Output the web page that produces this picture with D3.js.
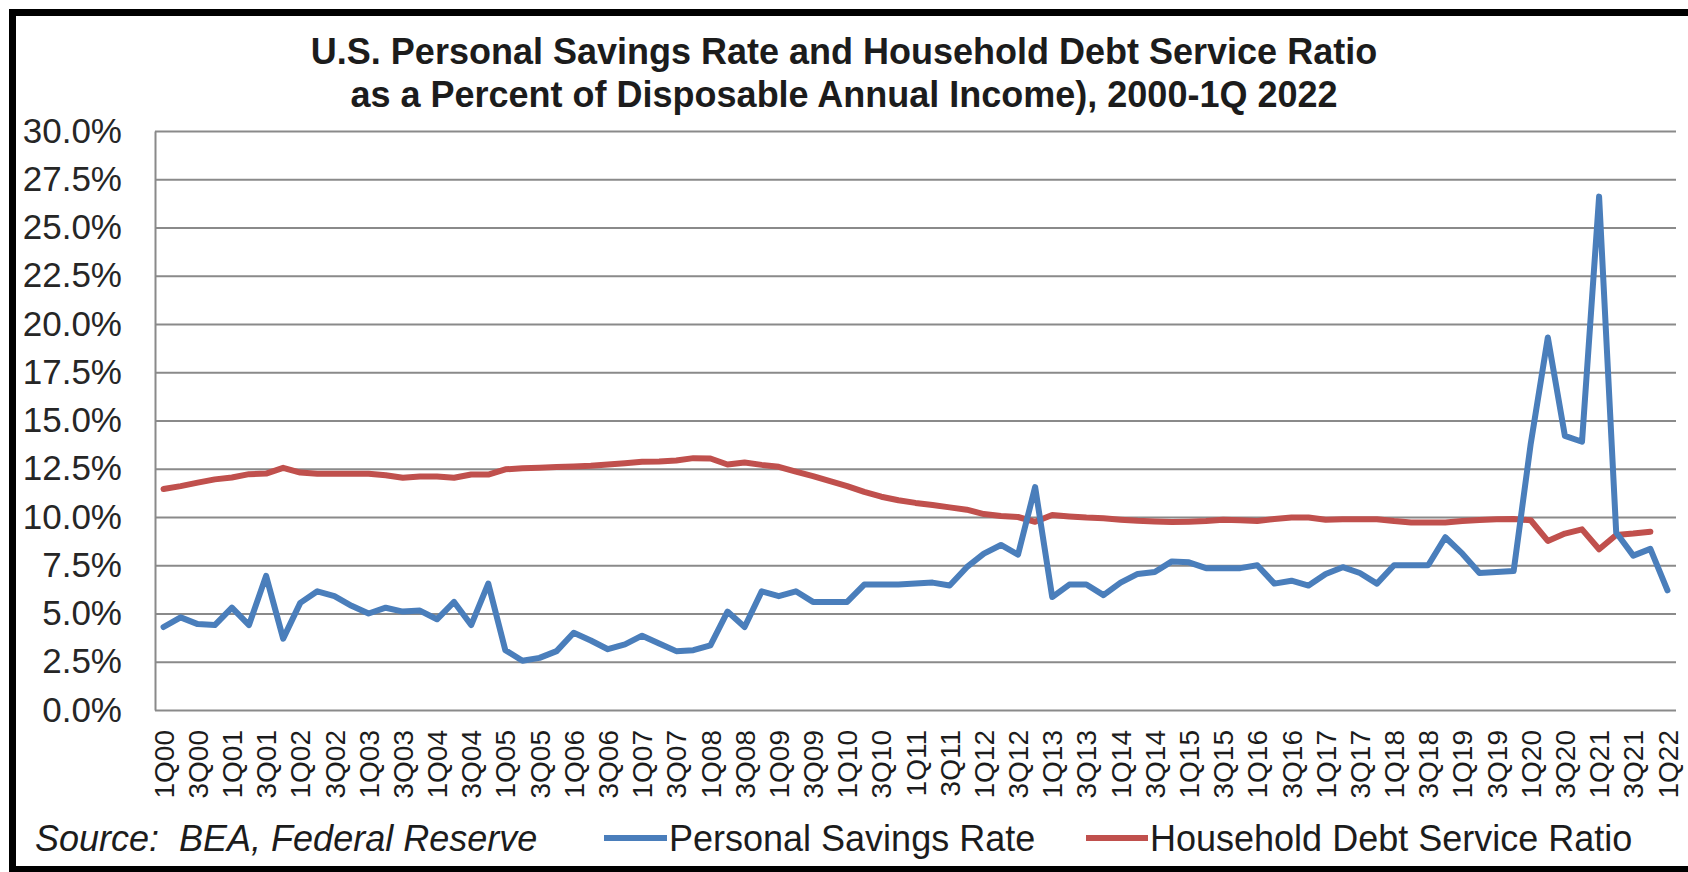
<!DOCTYPE html>
<html>
<head>
<meta charset="utf-8">
<script src="https://cdn.jsdelivr.net/npm/d3@7"></script>
<style>
  body { margin: 0; background: #fff; }
  svg { display: block; font-family: "Liberation Sans", Arial, sans-serif; }
</style>
</head>
<body>
<div id="chart"></div>
<script>
// Kvartaler 1Q00 - 1Q22
const quarters = [
  "1Q00", "2Q00", "3Q00", "4Q00", "1Q01", "2Q01", "3Q01", "4Q01",
  "1Q02", "2Q02", "3Q02", "4Q02", "1Q03", "2Q03", "3Q03", "4Q03",
  "1Q04", "2Q04", "3Q04", "4Q04", "1Q05", "2Q05", "3Q05", "4Q05",
  "1Q06", "2Q06", "3Q06", "4Q06", "1Q07", "2Q07", "3Q07", "4Q07",
  "1Q08", "2Q08", "3Q08", "4Q08", "1Q09", "2Q09", "3Q09", "4Q09",
  "1Q10", "2Q10", "3Q10", "4Q10", "1Q11", "2Q11", "3Q11", "4Q11",
  "1Q12", "2Q12", "3Q12", "4Q12", "1Q13", "2Q13", "3Q13", "4Q13",
  "1Q14", "2Q14", "3Q14", "4Q14", "1Q15", "2Q15", "3Q15", "4Q15",
  "1Q16", "2Q16", "3Q16", "4Q16", "1Q17", "2Q17", "3Q17", "4Q17",
  "1Q18", "2Q18", "3Q18", "4Q18", "1Q19", "2Q19", "3Q19", "4Q19",
  "1Q20", "2Q20", "3Q20", "4Q20", "1Q21", "2Q21", "3Q21", "4Q21",
  "1Q22"
];

// Kun hver anden kvartal bliver vist på x-aksen
const tickLabels = quarters.filter((q) => q.startsWith("1Q") || q.startsWith("3Q"));

// Personal Savings Rate (%)
const savingsRate = [
  4.3, 4.8, 4.45, 4.4, 5.3, 4.4, 6.95, 3.7,
  5.55, 6.15, 5.9, 5.4, 5.0, 5.3, 5.1, 5.15,
  4.7, 5.6, 4.4, 6.55, 3.1, 2.55, 2.7, 3.05,
  4.0, 3.6, 3.15, 3.4, 3.85, 3.45, 3.05, 3.1,
  3.35, 5.1, 4.3, 6.15, 5.9, 6.15, 5.6, 5.6,
  5.6, 6.5, 6.5, 6.5, 6.55, 6.6, 6.45, 7.4,
  8.1, 8.55, 8.05, 11.55, 5.85, 6.5, 6.5, 5.95,
  6.6, 7.05, 7.15, 7.7, 7.65, 7.35, 7.35, 7.35,
  7.5, 6.55, 6.7, 6.45, 7.05, 7.4, 7.1, 6.55,
  7.5, 7.5, 7.5, 8.95, 8.1, 7.1, 7.15, 7.2,
  13.8, 19.3, 14.2, 13.9, 26.6, 9.2, 8.0, 8.35,
  6.2
];

// Household Debt Service Ratio (%) - slutter 4Q21
const debtServiceRatio = [
  11.45, 11.6, 11.78, 11.95, 12.05, 12.22, 12.25, 12.55,
  12.3, 12.24, 12.24, 12.24, 12.24, 12.16, 12.03, 12.1,
  12.1, 12.03, 12.2, 12.2, 12.47, 12.52, 12.55, 12.59,
  12.62, 12.66, 12.72, 12.79, 12.86, 12.88, 12.93, 13.05,
  13.03, 12.72, 12.82, 12.7, 12.6, 12.35, 12.12, 11.86,
  11.6, 11.3, 11.05, 10.87, 10.73, 10.62, 10.5, 10.38,
  10.15, 10.05, 10.0, 9.75, 10.1, 10.03, 9.97, 9.93,
  9.86, 9.8, 9.77, 9.74, 9.76, 9.79, 9.86, 9.83,
  9.79, 9.9, 9.97, 9.97, 9.86, 9.88, 9.88, 9.88,
  9.79, 9.72, 9.71, 9.72, 9.79, 9.84, 9.88, 9.9,
  9.83, 8.76, 9.14, 9.36, 8.33, 9.07, 9.14, 9.24
];

const yTicks = [0, 2.5, 5, 7.5, 10, 12.5, 15, 17.5, 20, 22.5, 25, 27.5, 30];

const titleLines = [
  "U.S. Personal Savings Rate and Household Debt Service Ratio",
  "as a Percent of Disposable Annual Income), 2000-1Q 2022"
];
const seriesNames = ["Personal Savings Rate", "Household Debt Service Ratio"];
const sourceText = "Source:  BEA, Federal Reserve";

const width = 1688;
const height = 872;
const plot = { left: 155, right: 1676, top: 131, bottom: 710 };
const blue = "#4a7ebb";
const red = "#c0504d";
const gridColor = "#8a8a8a";
const textColor = "#1c1c1c";

const svg = d3
  .select("#chart")
  .append("svg")
  .attr("width", width)
  .attr("height", height);

svg.append("rect").attr("width", width).attr("height", height).attr("fill", "#fff");

const x = d3.scaleBand().domain(quarters).range([plot.left, plot.right]);
const y = d3.scaleLinear().domain([0, 30]).range([plot.bottom, plot.top]);
const cx = (q) => x(q) + x.bandwidth() / 2;

// Titel - to linjer centreret
svg
  .selectAll(".title")
  .data(titleLines)
  .enter()
  .append("text")
  .attr("class", "title")
  .attr("x", 844)
  .attr("y", (d, i) => 64 + i * 43)
  .attr("text-anchor", "middle")
  .attr("font-size", "36px")
  .attr("font-weight", "bold")
  .attr("fill", textColor)
  .text((d) => d);

// Y-akse med gitterlinjer
const yAxis = svg
  .append("g")
  .attr("transform", "translate(" + plot.left + ",0)")
  .call(
    d3
      .axisLeft(y)
      .tickValues(yTicks)
      .tickSizeInner(-(plot.right - plot.left))
      .tickSizeOuter(0)
      .tickPadding(33)
      .tickFormat((d) => d.toFixed(1) + "%")
  );

yAxis.select(".domain").attr("stroke", gridColor).attr("stroke-width", 2);
yAxis.selectAll(".tick line").attr("stroke", gridColor).attr("stroke-width", 2);
yAxis
  .selectAll(".tick text")
  .attr("font-size", "35px")
  .attr("font-family", "'Liberation Sans', Arial, sans-serif")
  .attr("fill", "#262626");

// X-akse - roterede kvartalsetiketter
const xAxis = svg
  .append("g")
  .attr("transform", "translate(0," + plot.bottom + ")")
  .call(d3.axisBottom(x).tickValues(tickLabels).tickSize(0));

xAxis.select(".domain").remove();
xAxis
  .selectAll(".tick text")
  .attr("transform", "rotate(-90)")
  .attr("text-anchor", "end")
  .attr("x", -20)
  .attr("y", 0)
  .attr("dy", "0.36em")
  .attr("font-size", "28px")
  .attr("font-family", "'Liberation Sans', Arial, sans-serif")
  .attr("fill", textColor);

// Linjerne
const line = d3
  .line()
  .x((d, i) => cx(quarters[i]))
  .y((d) => y(d));

svg
  .append("path")
  .datum(debtServiceRatio)
  .attr("fill", "none")
  .attr("stroke", red)
  .attr("stroke-width", 6)
  .attr("stroke-linejoin", "round")
  .attr("stroke-linecap", "round")
  .attr("d", line);

svg
  .append("path")
  .datum(savingsRate)
  .attr("fill", "none")
  .attr("stroke", blue)
  .attr("stroke-width", 6)
  .attr("stroke-linejoin", "round")
  .attr("stroke-linecap", "round")
  .attr("d", line);

// Kilde og legend i bunden
svg
  .append("text")
  .attr("x", 35)
  .attr("y", 851)
  .attr("font-size", "36px")
  .attr("font-style", "italic")
  .attr("fill", textColor)
  .style("white-space", "pre")
  .text(sourceText);

const legendItems = [
  { name: seriesNames[0], color: blue, x0: 604, x1: 667 },
  { name: seriesNames[1], color: red, x0: 1086, x1: 1148 }
];

const legend = svg
  .selectAll(".legend")
  .data(legendItems)
  .enter()
  .append("g")
  .attr("class", "legend");

legend
  .append("line")
  .attr("x1", (d) => d.x0)
  .attr("x2", (d) => d.x1)
  .attr("y1", 838)
  .attr("y2", 838)
  .attr("stroke", (d) => d.color)
  .attr("stroke-width", 6);

legend
  .append("text")
  .attr("x", (d) => d.x1 + 2)
  .attr("y", 851)
  .attr("font-size", "36px")
  .attr("fill", textColor)
  .text((d) => d.name);

// Sort ramme rundt om hele figuren (højre kant er skåret af)
svg
  .append("rect")
  .attr("x", 12.5)
  .attr("y", 12.5)
  .attr("width", 1720)
  .attr("height", 857)
  .attr("fill", "none")
  .attr("stroke", "#000")
  .attr("stroke-width", 7);
</script>
</body>
</html>
